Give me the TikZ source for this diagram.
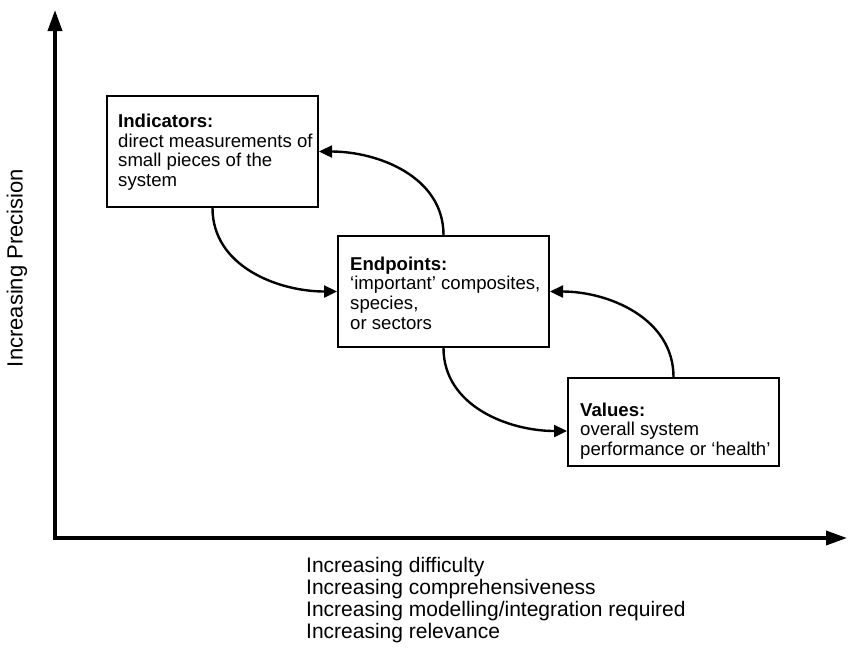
\documentclass[tikz,border=0pt]{standalone}
\usepackage{fontspec}
\setmainfont{Liberation Sans}
\usetikzlibrary{arrows.meta}
\begin{document}
\begin{tikzpicture}[x=1pt,y=-1pt,
  stage/.style={draw=black, line width=2pt, rectangle, minimum width=211pt, minimum height=111pt, anchor=north west, inner sep=0pt},
  stagetext/.style={anchor=west, inner sep=0pt, align=left, font=\fontsize{18.6}{19.6}\selectfont},
  axis/.style={line width=3.5pt, -{Triangle[length=21pt,width=14pt]}},
  flow/.style={line width=2.4pt, -{Triangle[length=13pt,width=12pt]}},
  axislabel/.style={inner sep=0pt, align=left, font=\fontsize{21}{22}\selectfont}]
\useasboundingbox (0,0) rectangle (850,649);

% axes
\coordinate (origin) at (55,538);
\coordinate (ytip) at (55,10);
\coordinate (xtip) at (847,538);
\draw[axis] ([yshift=1.75pt]origin) -- (ytip);
\draw[axis] ([xshift=-1.75pt]origin) -- (xtip);

% stage boxes
\node[stage] (ind) at (106,95) {};
\node[stage] (end) at (337,235) {};
\node[stage, minimum height=88pt] (val) at (567,377) {};

% box texts
\node[stagetext] (indtext) at (118,152) {\textbf{Indicators:}\\direct measurements of\\small pieces of the\\system};
\node[stagetext] (endtext) at (350,293) {\textbf{Endpoints:}\\‘important’ composites,\\species,\\or sectors};
\node[stagetext] (valtext) at (580,431) {\textbf{Values:}\\overall system\\performance or ‘health’};

% transitions between stages
\draw[flow] (ind.south) to[out=-90, in=180] (end.west);
\draw[flow] (end.north) to[out=90, in=0] (ind.east);
\draw[flow] (end.south) to[out=-90, in=180] ([yshift=-54pt]val.north west);
\draw[flow] (val.north) to[out=90, in=0] (end.east);

% axis labels
\node[axislabel, rotate=90, font=\fontsize{22}{23}\selectfont] (ylabel) at (17,268) {Increasing Precision};
\node[axislabel, anchor=north west] (xlabel) at (306,557) {Increasing difficulty\\Increasing comprehensiveness\\Increasing modelling/integration required\\Increasing relevance};
\end{tikzpicture}
\end{document}
